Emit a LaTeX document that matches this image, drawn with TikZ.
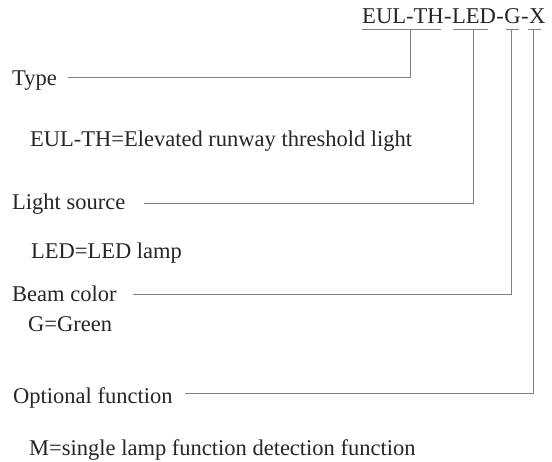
\documentclass[tikz,border=0pt]{standalone}
\usepackage{fontspec}
\setmainfont{Liberation Serif}
\usetikzlibrary{calc}
\begin{document}
\begin{tikzpicture}[x=1pt,y=-1pt,
  lbl/.style={anchor=base west,inner sep=0pt,font=\fontsize{22.5}{27}\selectfont,text=black!85},
  hd/.style={anchor=base west,inner sep=0pt,font=\fontsize{22.6}{27}\selectfont,text=black!85},
  ln/.style={draw=black!50,line width=0.8pt},
]
\useasboundingbox[fill=white] (0,0) rectangle (552,462);
% header code
\node[hd] (h1) at (362,24) {EUL-TH};
\node[hd] (hd1) at (h1.base east) {-};
\node[hd] (h2) at (hd1.base east) {LED};
\node[hd] (hd2) at (h2.base east) {-};
\node[hd] (h3) at (hd2.base east) {G};
\node[hd] (hd3) at (h3.base east) {-};
\node[hd] (h4) at (hd3.base east) {X};
\draw[ln] ($(h1.base west)+(0,5)$) -- ($(h1.base east)+(-3,5)$);
\draw[ln] ($(h2.base west)+(1,5)$) -- ($(h2.base east)+(-8,5)$);
\draw[ln] ($(h3.base west)+(2,5)$) -- ($(h3.base east)+(-2,5)$);
\draw[ln] ($(h4.base west)+(-1,5)$) -- ($(h4.base east)+(-5,5)$);
\coordinate (v1) at ($(h1.base west)!0.59!(h1.base east)+(0,5)$);
\coordinate (v2) at ($(h2.base west)!0.48!(h2.base east)+(0,5)$);
\coordinate (v3) at ($(h3.base west)!0.45!(h3.base east)+(0,5)$);
\coordinate (v4) at ($(h4.base west)!0.28!(h4.base east)+(0,5)$);
% labels
\node[lbl] (type) at (12,86) {Type};
\node[lbl] (typed) at (30,147) {EUL-TH=Elevated runway threshold light};
\node[lbl] (src) at (12,210) {Light source};
\node[lbl] (srcd) at (31,259) {LED=LED lamp};
\node[lbl] (beam) at (12,302) {Beam color};
\node[lbl] (beamd) at (28,332) {G=Green};
\node[lbl] (opt) at (13,404) {Optional function};
\node[lbl] (optd) at (29,455) {M=single lamp function detection function};
% connectors
\coordinate (s1) at (68,77);
\coordinate (s2) at (144,203);
\coordinate (s3) at (133,294);
\coordinate (s4) at (185,393);
\draw[ln] (s1) -| (v1);
\draw[ln] (s2) -| (v2);
\draw[ln] (s3) -| (v3);
\draw[ln] (s4) -| (v4);
\end{tikzpicture}
\end{document}
